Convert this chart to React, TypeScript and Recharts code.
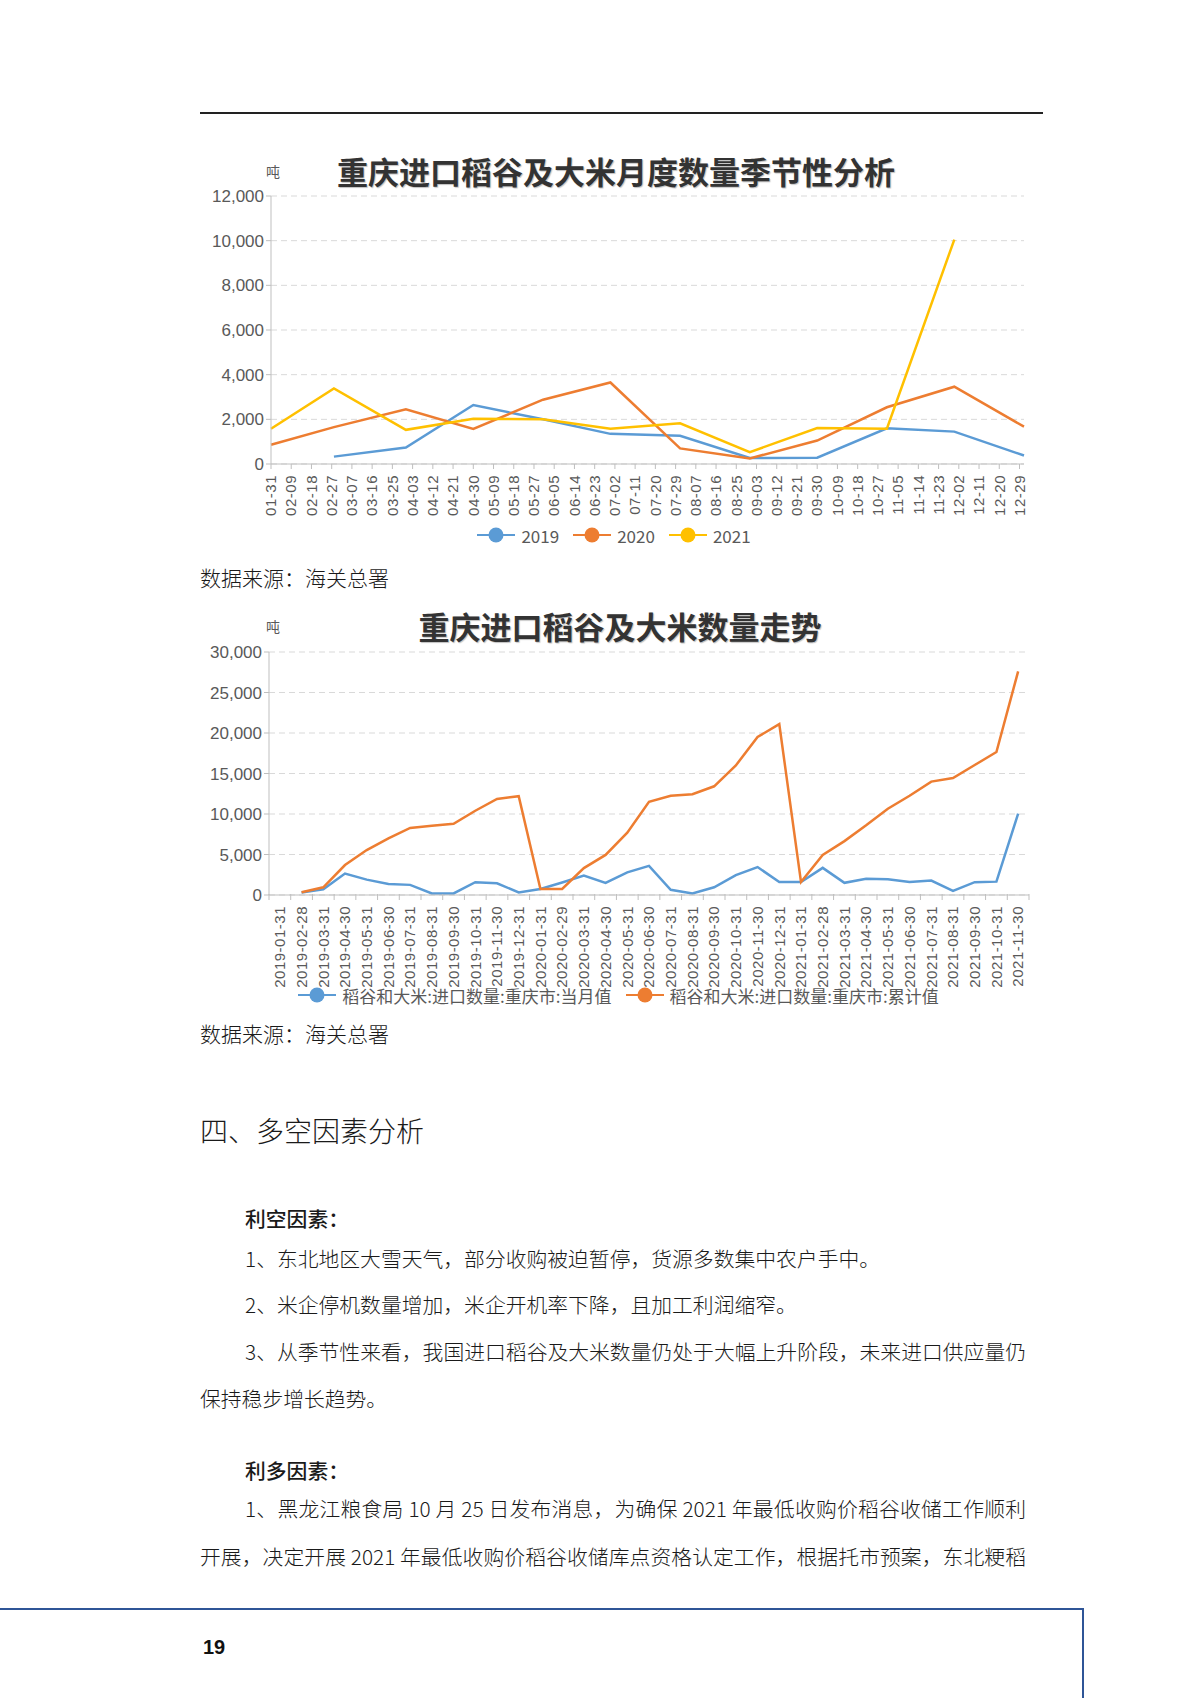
import {
  CartesianGrid,
  ComposedChart,
  Legend,
  Line,
  LineChart,
  XAxis,
  YAxis,
} from "recharts";

const BLUE = "#5B9BD5";
const ORANGE = "#ED7D31";
const YELLOW = "#FFC000";
const AXIS_GREY = "#BFBFBF";
const LABEL_GREY = "#595959";
const CJK = '"Noto Sans CJK SC", "Noto Sans", sans-serif';
const LATIN = '"Liberation Sans", Arial, sans-serif';

// chart 1: seasonal, one point per month end
const MONTH_ENDS = ["01-31", "02-28", "03-31", "04-30", "05-31", "06-30", "07-31", "08-31", "09-30", "10-31", "11-30", "12-31"];
const SEASON_TICKS = [
  "01-31", "02-09", "02-18", "02-27", "03-07", "03-16", "03-25", "04-03", "04-12", "04-21",
  "04-30", "05-09", "05-18", "05-27", "06-05", "06-14", "06-23", "07-02", "07-11", "07-20",
  "07-29", "08-07", "08-16", "08-25", "09-03", "09-12", "09-21", "09-30", "10-09", "10-18",
  "10-27", "11-05", "11-14", "11-23", "12-02", "12-11", "12-20", "12-29",
];
const Y2019 = [null, 330, 740, 2640, 2000, 1350, 1260, 270, 280, 1600, 1450, 380];
const Y2020 = [860, 1650, 2450, 1570, 2880, 3650, 700, 250, 1050, 2540, 3460, 1670];
const Y2021 = [1580, 3380, 1530, 2030, 2000, 1580, 1820, 530, 1610, 1580, 10050, null];
const SEASON_Y_TICKS = [0, 2000, 4000, 6000, 8000, 10000, 12000];

// chart 2: monthly trend
const TREND_DATES = [
  "2019-01-31", "2019-02-28", "2019-03-31", "2019-04-30", "2019-05-31", "2019-06-30",
  "2019-07-31", "2019-08-31", "2019-09-30", "2019-10-31", "2019-11-30", "2019-12-31",
  "2020-01-31", "2020-02-29", "2020-03-31", "2020-04-30", "2020-05-31", "2020-06-30",
  "2020-07-31", "2020-08-31", "2020-09-30", "2020-10-31", "2020-11-30", "2020-12-31",
  "2021-01-31", "2021-02-28", "2021-03-31", "2021-04-30", "2021-05-31", "2021-06-30",
  "2021-07-31", "2021-08-31", "2021-09-30", "2021-10-31", "2021-11-30",
];
const MONTHLY = [
  null, 300, 700, 2650, 1900, 1350, 1250, 200, 200, 1580, 1450, 320,
  750, 1550, 2400, 1500, 2800, 3600, 650, 200, 950, 2450, 3450, 1600,
  1600, 3350, 1500, 2000, 1950, 1600, 1780, 520, 1580, 1650, 10050,
];
const CUMULATIVE = [
  null, 350, 950, 3700, 5550, 7000, 8280, 8550, 8800, 10400, 11850, 12200,
  750, 750, 3320, 4950, 7700, 11500, 12250, 12450, 13420, 16000, 19500, 21100,
  1600, 4950, 6650, 8600, 10650, 12250, 14000, 14450, 16050, 17650, 27600,
];
const TREND_Y_TICKS = [0, 5000, 10000, 15000, 20000, 25000, 30000];

// day of year on a leap-year calendar, so 02-27 / 03-07 ticks land right
const MONTH_START = [0, 31, 60, 91, 121, 152, 182, 213, 244, 274, 305, 335];
const dayOf = (md: string) => {
  const [m, d] = md.split("-").map(Number);
  return MONTH_START[m - 1] + d;
};

const seasonData = MONTH_ENDS.map((md, i) => ({
  day: dayOf(md),
  y2019: Y2019[i],
  y2020: Y2020[i],
  y2021: Y2021[i],
}));
const seasonTickDays = SEASON_TICKS.map(dayOf);
const seasonTickLabel: Record<number, string> = {};
SEASON_TICKS.forEach((t) => (seasonTickLabel[dayOf(t)] = t));

const trendData = TREND_DATES.map((date, i) => ({
  date,
  monthly: MONTHLY[i],
  cumulative: CUMULATIVE[i],
}));

const fmt = (v: number) => v.toLocaleString("en-US");

// chart 2 sizes (band ticks sit between labels, like the source)
const T_W = 869;
const T_YW = 89;
const T_MR = 20;
const T_STEP = (T_W - T_YW - T_MR) / TREND_DATES.length;

const RotatedTick = ({ x, y, payload, labels, index, band }: any) => {
  const text = labels ? labels[payload.value] : payload.value;
  const ty = y + 4;
  return (
    <g>
      {band && (
        <line x1={x - band / 2} y1={y - 8} x2={x - band / 2} y2={y - 2} stroke={AXIS_GREY} />
      )}
      {band && index === TREND_DATES.length - 1 && (
        <line x1={x + band / 2} y1={y - 8} x2={x + band / 2} y2={y - 2} stroke={AXIS_GREY} />
      )}
      <text
        x={x}
        y={ty}
        transform={`rotate(-90, ${x}, ${ty})`}
        textAnchor="end"
        dy="0.35em"
        fill={LABEL_GREY}
        fontSize={15}
        letterSpacing={0.5}
        fontFamily={LATIN}
      >
        {text}
      </text>
    </g>
  );
};

const LegendContent = ({ payload, shift }: any) => (
  <div
    style={{
      display: "flex",
      justifyContent: "center",
      alignItems: "center",
      gap: 14,
      height: 22,
      paddingLeft: shift,
      fontFamily: CJK,
      fontSize: 17,
      color: LABEL_GREY,
    }}
  >
    {payload?.map((entry: any, i: number) => (
      <div key={`item-${i}`} style={{ display: "flex", alignItems: "center", gap: 6 }}>
        <svg width={38} height={18}>
          <line x1={0} y1={9} x2={38} y2={9} stroke={entry.color} strokeWidth={2} />
          <circle cx={19} cy={9} r={7.5} fill={entry.color} />
        </svg>
        <span style={{ lineHeight: 1 }}>{entry.value}</span>
      </div>
    ))}
  </div>
);

const yTickStyle = {
  fill: LABEL_GREY,
  fontSize: 17,
  fontFamily: LATIN,
};

const Txt = ({ x, y, size, children, width, justify, weight }: any) => (
  <div
    style={{
      position: "absolute",
      left: x,
      top: y - size / 2,
      fontSize: size,
      lineHeight: 1,
      fontFamily: CJK,
      fontWeight: weight ?? 300,
      color: "#1a1a1a",
      whiteSpace: "nowrap",
      width,
      textAlign: justify ? "justify" : "left",
      textAlignLast: justify ? "justify" : "auto",
    }}
  >
    {children}
  </div>
);

const SeasonChart = () => (
  <LineChart
    width={859}
    height={400}
    data={seasonData}
    margin={{ top: 46, right: 15, bottom: 4, left: 0 }}
  >
    <CartesianGrid vertical={false} stroke="#D9D9D9" strokeDasharray="6 4" />
    <XAxis
      dataKey="day"
      type="number"
      domain={[31, 366]}
      ticks={seasonTickDays}
      interval={0}
      height={60}
      stroke={AXIS_GREY}
      tickSize={5}
      tick={<RotatedTick labels={seasonTickLabel} />}
    />
    <YAxis
      width={91}
      domain={[0, 12000]}
      ticks={SEASON_Y_TICKS}
      tickFormatter={fmt}
      stroke={AXIS_GREY}
      tickSize={5}
      tick={yTickStyle}
    />
    <Legend verticalAlign="bottom" height={22} content={<LegendContent shift={24} />} />
    <Line dataKey="y2019" name="2019" stroke={BLUE} strokeWidth={2.5} dot={false} isAnimationActive={false} />
    <Line dataKey="y2020" name="2020" stroke={ORANGE} strokeWidth={2.5} dot={false} isAnimationActive={false} />
    <Line dataKey="y2021" name="2021" stroke={YELLOW} strokeWidth={2.5} dot={false} isAnimationActive={false} />
  </LineChart>
);

const TrendChart = () => (
  <ComposedChart
    width={T_W}
    height={410}
    data={trendData}
    margin={{ top: 52, right: T_MR, bottom: 4, left: 0 }}
  >
    <CartesianGrid vertical={false} stroke="#D9D9D9" strokeDasharray="6 4" />
    <XAxis
      dataKey="date"
      scale="band"
      interval={0}
      height={89}
      stroke={AXIS_GREY}
      tickLine={false}
      tickSize={5}
      tick={<RotatedTick band={T_STEP} />}
    />
    <YAxis
      width={T_YW}
      domain={[0, 30000]}
      ticks={TREND_Y_TICKS}
      tickFormatter={fmt}
      stroke={AXIS_GREY}
      tickSize={5}
      tick={yTickStyle}
    />
    <Legend verticalAlign="bottom" height={22} content={<LegendContent shift={28} />} />
    <Line
      dataKey="monthly"
      name="稻谷和大米:进口数量:重庆市:当月值"
      stroke={BLUE}
      strokeWidth={2.5}
      dot={false}
      isAnimationActive={false}
    />
    <Line
      dataKey="cumulative"
      name="稻谷和大米:进口数量:重庆市:累计值"
      stroke={ORANGE}
      strokeWidth={2.5}
      dot={false}
      isAnimationActive={false}
    />
  </ComposedChart>
);

const titleStyle = (cx: number, cy: number): any => ({
  position: "absolute",
  left: cx - 330,
  width: 660,
  top: cy - 16,
  textAlign: "center",
  fontSize: 31,
  lineHeight: 1,
  fontWeight: 700,
  fontFamily: CJK,
  color: "#333",
  textShadow: "1px 1px 1px rgba(0,0,0,0.25)",
});

const unitStyle = (x: number, cy: number): any => ({
  position: "absolute",
  left: x,
  top: cy - 7,
  fontSize: 14,
  lineHeight: 1,
  fontFamily: CJK,
  color: LABEL_GREY,
});

export default function App() {
  return (
    <div
      style={{
        position: "absolute",
        left: 0,
        top: 0,
        width: 1200,
        height: 1698,
        background: "#fff",
        overflow: "hidden",
      }}
    >
      {/* header rule */}
      <div style={{ position: "absolute", left: 200, top: 112, width: 843, height: 2, background: "#222" }} />

      <div style={titleStyle(616, 171)}>重庆进口稻谷及大米月度数量季节性分析</div>
      <div style={unitStyle(266, 171)}>吨</div>
      <div style={{ position: "absolute", left: 180, top: 150 }}>
        <SeasonChart />
      </div>

      <Txt x={200} y={577} size={21}>数据来源：海关总署</Txt>

      <div style={titleStyle(620, 626)}>重庆进口稻谷及大米数量走势</div>
      <div style={unitStyle(266, 626)}>吨</div>
      <div style={{ position: "absolute", left: 180, top: 600 }}>
        <TrendChart />
      </div>

      <Txt x={200} y={1033} size={21}>数据来源：海关总署</Txt>

      <Txt x={200} y={1130} size={28}>四、多空因素分析</Txt>

      <Txt x={245} y={1218} size={20.8} weight={500}>利空因素：</Txt>
      <Txt x={245} y={1258} size={20.8}>1、东北地区大雪天气，部分收购被迫暂停，货源多数集中农户手中。</Txt>
      <Txt x={245} y={1304} size={20.8}>2、米企停机数量增加，米企开机率下降，且加工利润缩窄。</Txt>
      <Txt x={245} y={1351} size={20.8} width={781} justify>
        3、从季节性来看，我国进口稻谷及大米数量仍处于大幅上升阶段，未来进口供应量仍
      </Txt>
      <Txt x={200} y={1398} size={20.8}>保持稳步增长趋势。</Txt>

      <Txt x={245} y={1470} size={20.8} weight={500}>利多因素：</Txt>
      <Txt x={245} y={1508} size={20.8} width={781} justify>
        1、黑龙江粮食局 10 月 25 日发布消息，为确保 2021 年最低收购价稻谷收储工作顺利
      </Txt>
      <Txt x={200} y={1556} size={20.8} width={826} justify>
        开展，决定开展 2021 年最低收购价稻谷收储库点资格认定工作，根据托市预案，东北粳稻
      </Txt>

      {/* footer frame */}
      <div style={{ position: "absolute", left: 0, top: 1608, width: 1084, height: 2, background: "#2F5597" }} />
      <div style={{ position: "absolute", left: 1082, top: 1608, width: 2, height: 90, background: "#2F5597" }} />
      <div
        style={{
          position: "absolute",
          left: 203,
          top: 1637,
          fontSize: 20,
          lineHeight: 1,
          fontWeight: 700,
          fontFamily: LATIN,
          color: "#111",
        }}
      >
        19
      </div>
    </div>
  );
}
